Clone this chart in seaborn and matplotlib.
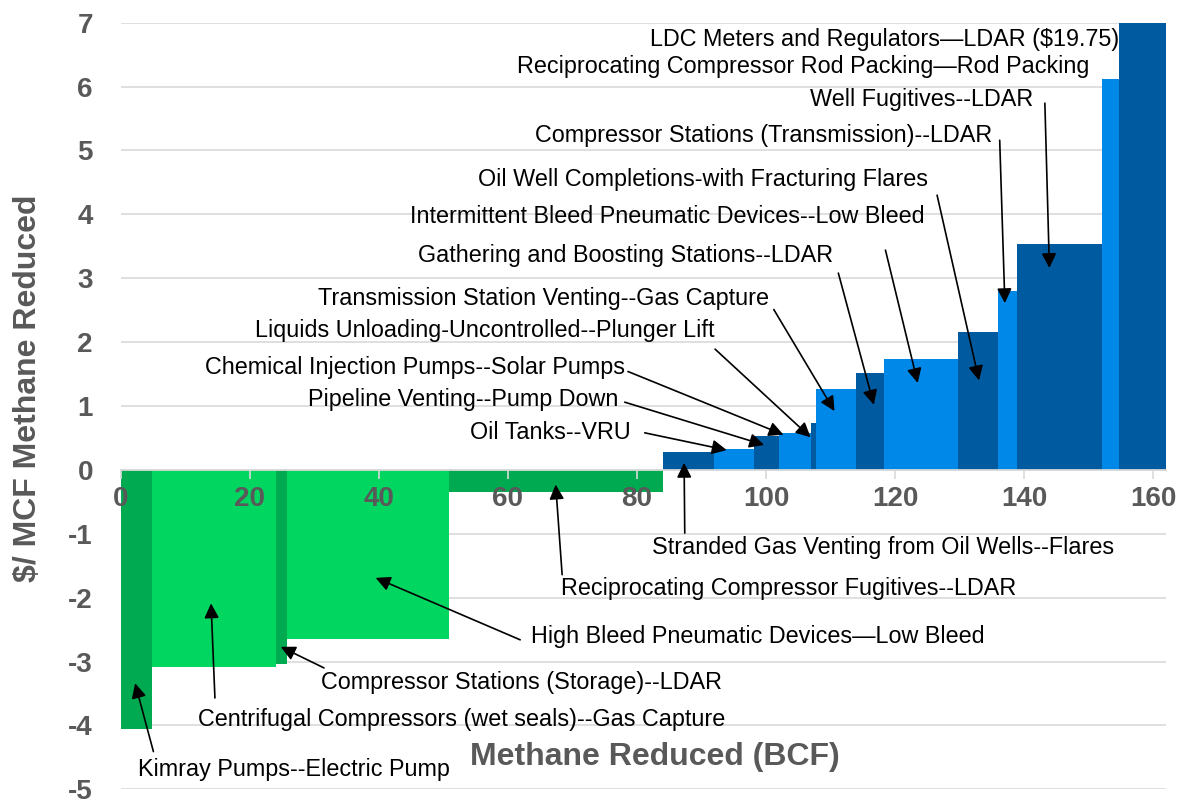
import numpy as np
import matplotlib
matplotlib.use("Agg")
import matplotlib.pyplot as plt
import seaborn as sns

# measures, ordered by cost ($/MCF) ; widths = methane reduced (BCF)
measures = [
    "Kimray Pumps--Electric Pump",
    "Centrifugal Compressors (wet seals)--Gas Capture",
    "Compressor Stations (Storage)--LDAR",
    "High Bleed Pneumatic Devices\u2014Low Bleed",
    "Reciprocating Compressor Fugitives--LDAR",
    "Stranded Gas Venting from Oil Wells--Flares",
    "Oil Tanks--VRU",
    "Pipeline Venting--Pump Down",
    "Chemical Injection Pumps--Solar Pumps",
    "Liquids Unloading-Uncontrolled--Plunger Lift",
    "Transmission Station Venting--Gas Capture",
    "Gathering and Boosting Stations--LDAR",
    "Intermittent Bleed Pneumatic Devices--Low Bleed",
    "Oil Well Completions-with Fracturing Flares",
    "Compressor Stations (Transmission)--LDAR",
    "Well Fugitives--LDAR",
    "Reciprocating Compressor Rod Packing\u2014Rod Packing",
    "LDC Meters and Regulators\u2014LDAR ($19.75)",
]
reduced_bcf = [4.8, 19.2, 1.8, 25.1, 33.2, 7.9, 6.2, 3.8, 5.0, 0.8,
               6.2, 4.2, 11.6, 6.2, 2.9, 13.1, 2.7, 7.2]
cost_per_mcf = [-4.05, -3.08, -3.04, -2.64, -0.34, 0.28, 0.32, 0.53, 0.57, 0.74,
                1.27, 1.51, 1.73, 2.16, 2.80, 3.54, 6.12, 19.75]

# label placement (text left/center-y) and arrow tail -> head, in data units
label_pos = [(2.7, -4.69), (12.0, -3.90), (31.0, -3.33), (63.6, -2.61), (68.2, -1.85),
             (82.3, -1.22), (54.1, 0.58), (29.0, 1.10), (13.1, 1.61), (20.8, 2.18),
             (30.6, 2.69), (46.1, 3.36), (44.8, 3.97), (55.4, 4.54), (64.2, 5.24),
             (106.8, 5.79), (61.4, 6.31), (82.0, 6.73)]
arrows = [((5.07, -4.41), (2.23, -3.34)), ((14.6, -3.57), (14.0, -2.09)),
          ((31.5, -3.10), (24.8, -2.77)), ((61.9, -2.66), (39.5, -1.69)),
          ((68.4, -1.64), (67.4, -0.23)), ((87.4, -0.99), (87.3, 0.11)),
          ((81.2, 0.58), (93.9, 0.31)), ((78.1, 1.06), (99.7, 0.39)),
          ((78.6, 1.54), (102.7, 0.55)), ((92.1, 1.89), (106.9, 0.51)),
          ((101.2, 2.51), (110.6, 0.92)), ((111.2, 3.08), (116.7, 1.02)),
          ((118.5, 3.44), (123.5, 1.36)), ((126.5, 4.30), (133.0, 1.40)),
          ((136.2, 5.16), (137.0, 2.61)), ((143.2, 5.74), (143.9, 3.16)),
          None, None]

sns.set_theme(style="white")
plt.rcParams["font.family"] = ["Liberation Sans", "DejaVu Sans"]
plt.rcParams["axes.unicode_minus"] = False

gray = "#595959"
grid = "#d9d9d9"

fig = plt.figure(figsize=(11.84, 8), dpi=100)
ax = fig.add_axes([120.7 / 1184, 1 - 789.3 / 800, (1166.2 - 120.7) / 1184, (789.3 - 22.7) / 800])

lefts = np.concatenate([[0], np.cumsum(reduced_bcf)[:-1]])
colors = []
for i, c in enumerate(cost_per_mcf):
    if c < 0:
        colors.append("#00aa50" if i % 2 == 0 else "#00d660")
    else:
        colors.append("#005aa0" if (i - 5) % 2 == 0 else "#0088e8")

ax.bar(lefts, cost_per_mcf, width=reduced_bcf, align="edge", color=colors,
       linewidth=0, zorder=2)

ax.set_xlim(0, 162)
ax.set_ylim(-5, 7)
ax.set_yticks(range(-5, 8))
ax.set_xticks(range(0, 161, 20))
for yv in range(-5, 8):
    ax.axhline(yv, color=grid, linewidth=1.2, zorder=0)
ax.xaxis.set_zorder(5)

for s in ["left", "right", "top"]:
    ax.spines[s].set_visible(False)
ax.spines["bottom"].set_position(("data", 0))
ax.spines["bottom"].set_color(grid)
ax.spines["bottom"].set_linewidth(1.3)
ax.spines["bottom"].set_zorder(3)

ax.tick_params(axis="y", length=0, pad=20, labelsize=20, labelcolor=gray)
ax.tick_params(axis="x", direction="out", length=6.5, width=1.2, color=grid,
               pad=5, labelsize=20, labelcolor=gray, bottom=True)
for lab in ax.get_xticklabels() + ax.get_yticklabels():
    lab.set_fontweight("bold")

for name, (tx, ty), arr in zip(measures, label_pos, arrows):
    ax.text(tx, ty, name, ha="left", va="center", fontsize=16.8, color="black", zorder=4)
    if arr is not None:
        ax.annotate("", xy=arr[1], xytext=arr[0],
                    arrowprops=dict(arrowstyle="-|>", color="black", lw=1.2,
                                    mutation_scale=22, shrinkA=0, shrinkB=0),
                    zorder=4)

fig.text(28 / 1184, 1 - 388 / 800, "$/ MCF Methane Reduced", rotation=90,
         ha="center", va="center", fontsize=23, fontweight="bold", color=gray)
fig.text(655 / 1184, 1 - 757 / 800, "Methane Reduced (BCF)",
         ha="center", va="center", fontsize=23, fontweight="bold", color=gray)

fig.savefig("out.png", dpi=100)
